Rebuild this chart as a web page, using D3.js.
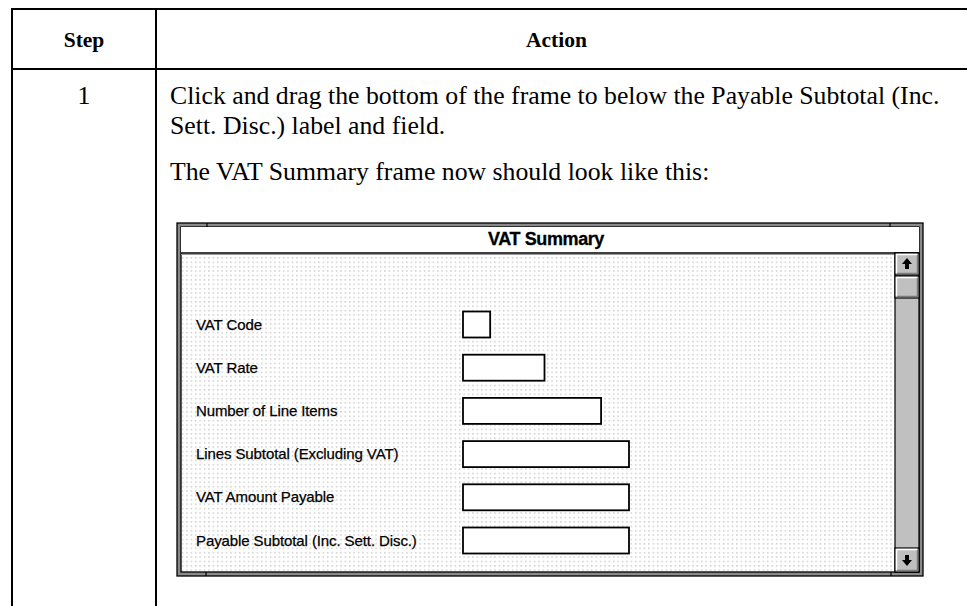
<!DOCTYPE html>
<html>
<head>
<meta charset="utf-8">
<script src="https://cdn.jsdelivr.net/npm/d3@7"></script>
<style>
  html, body { margin: 0; padding: 0; background: #fff; }
  svg { display: block; }
</style>
</head>
<body>
<svg id="chart" width="967" height="606"></svg>
<script>
// ---------- data ----------
const headers = ["Step", "Action"];
const stepNumbers = ["1"];
const instructionLines = [
  "Click and drag the bottom of the frame to below the Payable Subtotal (Inc.",
  "Sett. Disc.) label and field."
];
const resultLine = "The VAT Summary frame now should look like this:";
const frameTitle = "VAT Summary";
const fieldLabels = [
  "VAT Code",
  "VAT Rate",
  "Number of Line Items",
  "Lines Subtotal (Excluding VAT)",
  "VAT Amount Payable",
  "Payable Subtotal (Inc. Sett. Disc.)"
];
// field lengths (in characters) of each entry box
const fieldLengths = [1.8, 5.4, 9.15, 11, 11, 11];

// ---------- drawing ----------
const W = 967, H = 606;
const svg = d3.select("#chart");
const serif = "'Liberation Serif', 'Times New Roman', serif";
const sans = "'Liberation Sans', Arial, sans-serif";

// table frame
const table = { left: 12, stepRight: 156, right: 990, top: 9, headBottom: 69 };
const colX = d3.scaleOrdinal().domain(headers).range([
  (table.left + table.stepRight) / 2, (table.stepRight + 957) / 2
]);

const lines = svg.append("g").attr("stroke", "#000").attr("stroke-width", 2);
lines.append("line").attr("x1", table.left - 1).attr("x2", table.right).attr("y1", table.top).attr("y2", table.top);
lines.append("line").attr("x1", table.left - 1).attr("x2", table.right).attr("y1", table.headBottom).attr("y2", table.headBottom);
lines.append("line").attr("x1", table.left).attr("x2", table.left).attr("y1", table.top).attr("y2", H + 2);
lines.append("line").attr("x1", table.stepRight).attr("x2", table.stepRight).attr("y1", table.top).attr("y2", H + 2);

svg.append("g").selectAll("text").data(headers).join("text")
  .attr("x", d => colX(d)).attr("y", 47)
  .attr("text-anchor", "middle")
  .attr("font-family", serif).attr("font-weight", "bold").attr("font-size", 21.5)
  .text(d => d);

const stepG = svg.append("g");
stepG.selectAll("text").data(stepNumbers).join("text")
  .attr("x", colX("Step")).attr("y", 104)
  .attr("text-anchor", "middle")
  .attr("font-family", serif).attr("font-size", 20)
  .text(d => d);

const body = svg.append("g").attr("font-family", serif).attr("font-size", 20);
const lineY = d3.scaleLinear().domain([0, 1]).range([104, 134]);
body.selectAll("text.instr").data(instructionLines).join("text")
  .attr("class", "instr")
  .attr("x", 170).attr("y", (d, i) => lineY(i))
  .text(d => d);
body.append("text").attr("x", 170).attr("y", 180).text(resultLine);

// fit body width to reference (first line spans ~170..940)
const firstLen = body.select("text.instr").node().getComputedTextLength();
const fs = 20 * 770 / firstLen;
body.attr("font-size", fs);
stepG.selectAll("text").attr("font-size", fs);

// ---------- screenshot window ----------
const win = { x0: 177, y0: 223, x1: 923, y1: 576, titleBottom: 253, sbLeft: 895, sbRight: 919 };
const defs = svg.append("defs");
const pat = defs.append("pattern").attr("id", "dots")
  .attr("patternUnits", "userSpaceOnUse").attr("width", 4.4).attr("height", 4.4)
  .attr("x", 0.5).attr("y", 1);
pat.append("rect").attr("width", 4.4).attr("height", 4.4).attr("fill", "#fff");
pat.append("rect").attr("x", 1).attr("y", 1).attr("width", 1.3).attr("height", 1.3).attr("fill", "#bdbdbd");

const w = svg.append("g");
// outer gray frame
w.append("rect").attr("x", win.x0).attr("y", win.y0)
  .attr("width", win.x1 - win.x0).attr("height", win.y1 - win.y0)
  .attr("fill", "#8a8a8a").attr("stroke", "#000").attr("stroke-width", 1.3);
// inner area
const ix0 = win.x0 + 4, iy0 = win.y0 + 4, ix1 = win.x1 - 4, iy1 = win.y1 - 4;
w.append("rect").attr("x", ix0).attr("y", iy0).attr("width", ix1 - ix0).attr("height", iy1 - iy0)
  .attr("fill", "#fff").attr("stroke", "#000").attr("stroke-width", 1.3);
// title bar
w.append("rect").attr("x", ix0).attr("y", iy0).attr("width", ix1 - ix0).attr("height", win.titleBottom - iy0)
  .attr("fill", "#fff");
w.append("line").attr("x1", ix0).attr("x2", ix1).attr("y1", win.titleBottom).attr("y2", win.titleBottom)
  .attr("stroke", "#000").attr("stroke-width", 1.5);
w.append("line").attr("x1", ix0).attr("x2", ix1).attr("y1", win.titleBottom + 1.5).attr("y2", win.titleBottom + 1.5)
  .attr("stroke", "#999").attr("stroke-width", 1);
w.append("text").attr("x", (ix0 + ix1) / 2 - 4).attr("y", 245)
  .attr("text-anchor", "middle").attr("font-family", sans).attr("font-weight", "bold")
  .attr("font-size", 18).attr("letter-spacing", -0.4)
  .attr("stroke", "#000").attr("stroke-width", 0.3)
  .text(frameTitle);
// dotted client area
w.append("rect").attr("x", ix0 + 1).attr("y", win.titleBottom + 2)
  .attr("width", win.sbLeft - ix0 - 1).attr("height", iy1 - win.titleBottom - 3)
  .attr("fill", "url(#dots)");

// resize handle ticks
[[207, win.y0, 4], [890, win.y0, 4], [206, win.y1 - 4, 4], [891, win.y1 - 4, 4]].forEach(([x, y, h]) => {
  w.append("line").attr("x1", x).attr("x2", x).attr("y1", y).attr("y2", y + h)
    .attr("stroke", "#000").attr("stroke-width", 1.2);
});

// scrollbar
const sb = w.append("g");
sb.append("rect").attr("x", win.sbLeft).attr("y", win.titleBottom)
  .attr("width", win.sbRight - win.sbLeft).attr("height", iy1 - win.titleBottom)
  .attr("fill", "#c0c0c0").attr("stroke", "#000").attr("stroke-width", 1.2);
function button(y0, y1) {
  const g = sb.append("g");
  const x0 = win.sbLeft, x1 = win.sbRight;
  g.append("rect").attr("x", x0).attr("y", y0).attr("width", x1 - x0).attr("height", y1 - y0)
    .attr("fill", "#c0c0c0").attr("stroke", "#000").attr("stroke-width", 1.2);
  g.append("path").attr("d", `M${x0 + 1.5},${y1 - 2}V${y0 + 1.5}H${x1 - 2}`)
    .attr("fill", "none").attr("stroke", "#fff").attr("stroke-width", 1.5);
  g.append("path").attr("d", `M${x0 + 2},${y1 - 1.5}H${x1 - 1.5}V${y0 + 2}`)
    .attr("fill", "none").attr("stroke", "#7b7b7b").attr("stroke-width", 1.5);
  return g;
}
const upB = button(win.titleBottom, 275);
const cx = (win.sbLeft + win.sbRight) / 2;
upB.append("path").attr("d", `M${cx},${258}L${cx + 5},${264}H${cx + 2}V${269}H${cx - 2}V${264}H${cx - 5}Z`).attr("fill", "#000");
button(276, 298);
const dnB = button(548, iy1);
dnB.append("path").attr("d", `M${cx},${566}L${cx + 5},${560}H${cx + 2}V${555}H${cx - 2}V${560}H${cx - 5}Z`).attr("fill", "#000");

// fields
const rowY = d3.scalePoint().domain(fieldLabels).range([324.5, 540.5]);
const boxW = d3.scaleLinear().domain([0, 11]).range([0, 166]);
const fields = w.append("g");
fields.selectAll("text").data(fieldLabels).join("text")
  .attr("x", 196).attr("y", d => rowY(d) + 5)
  .attr("font-family", sans).attr("font-size", 15).attr("letter-spacing", -0.1)
  .attr("fill", "#000").attr("stroke", "#000").attr("stroke-width", 0.25)
  .text(d => d);
fields.selectAll("rect").data(fieldLabels).join("rect")
  .attr("x", 463).attr("y", d => rowY(d) - 13)
  .attr("width", (d, i) => boxW(fieldLengths[i])).attr("height", 26)
  .attr("fill", "#fff").attr("stroke", "#000").attr("stroke-width", 1.8);
</script>
</body>
</html>
